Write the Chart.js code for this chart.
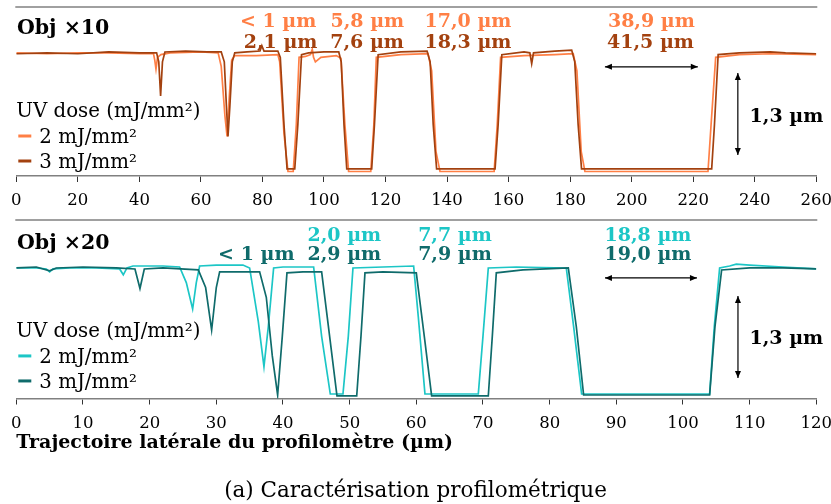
<!DOCTYPE html>
<html>
<head>
<meta charset="utf-8">
<script src="https://cdn.jsdelivr.net/npm/chart.js@4.4.1/dist/chart.umd.min.js"></script>
<style>
  html, body { margin: 0; padding: 0; background: #fff; }
  #wrap { position: relative; width: 831px; height: 504px; overflow: hidden; }
  .panel { position: absolute; left: 0; width: 831px; }
  #p1 { top: 0; height: 215px; }
  #p2 { top: 213px; height: 291px; }
</style>
</head>
<body>
<div id="wrap">
  <div class="panel" id="p1"><canvas id="c1"></canvas></div>
  <div class="panel" id="p2"><canvas id="c2"></canvas></div>
</div>
<script>
/* Profilometer traces, Obj x10 and Obj x20 — [lateral position (µm), height (µm)] */
var doseLabels = ['2 mJ/mm²', '3 mJ/mm²'];

var x10_2mJ = [[0,0],[10,-0.01],[20,0],[30,0],[40,-0.01],[44.6,-0.01],[45.0,-0.08],[45.4,-0.18],[45.9,-0.05],[47,-0.02],
  [50,0],[60,0.01],[65.6,0],[66.6,-0.15],[67.8,-0.7],[68.5,-0.93],[69.2,-0.5],[70,-0.08],[71,-0.03],[78,-0.03],
  [85,-0.02],[85.6,-0.1],[87,-0.9],[88.3,-1.32],[90,-1.32],[91,-0.8],[91.9,-0.05],[94,-0.04],[95.6,-0.02],[96.2,0.04],
  [96.6,-0.05],[97.2,-0.1],[99,-0.05],[104,-0.03],[105.5,-0.06],[106.8,-0.8],[108,-1.32],[115.2,-1.32],[116.2,-0.8],[117,-0.05],
  [125,-0.02],[133.8,-0.01],[135,-0.2],[136.4,-1.1],[137.7,-1.32],[155.3,-1.32],[156.3,-0.8],[157.4,-0.05],[165,-0.03],[175,-0.02],
  [181,-0.01],[182.2,-0.2],[183.6,-1.1],[184.8,-1.32],[224.8,-1.32],[225.8,-0.8],[227.3,-0.05],[235,-0.02],[245,-0.01],[260,-0.02]];

var x10_3mJ = [[0,-0.01],[10,0],[20,-0.01],[30,0.01],[40,0],[45.6,0],[46.3,-0.1],[46.9,-0.48],[47.5,-0.1],[48.3,0.01],
  [55,0.02],[62,0.01],[66.6,0.01],[67.6,-0.1],[68.3,-0.6],[68.8,-0.93],[69.4,-0.6],[70.2,-0.1],[71,0],[75,0.01],
  [79.2,0.02],[79.8,0.08],[80.5,0.02],[85,0.02],[85.8,-0.05],[87,-0.8],[88,-1.29],[90.5,-1.29],[91.5,-0.8],[92.7,-0.02],
  [95,0],[100,0.01],[104.8,0.01],[105.6,-0.1],[106.5,-0.8],[107.4,-1.29],[115.5,-1.29],[116.4,-0.8],[117.6,-0.02],[125,0.01],
  [133.5,0.02],[134.5,-0.1],[135.5,-0.8],[136.6,-1.29],[155.6,-1.29],[156.6,-0.8],[157.8,-0.02],[165,0.01],[166.9,0],[167.5,-0.12],
  [168.1,0],[175,0.02],[180.5,0.03],[181.5,-0.1],[182.6,-0.8],[183.7,-1.29],[226,-1.29],[226.9,-0.8],[228.1,-0.02],[235,0],
  [245,0.01],[250,0],[260,-0.01]];

var x20_2mJ = [[0,0],[3,0],[4.5,-0.01],[5,-0.04],[5.5,-0.01],[8,0],[12,0],[15.5,-0.01],[16.05,-0.07],[16.6,0],
  [17.5,0.02],[22,0.02],[24.5,0.01],[25.5,-0.15],[26.45,-0.42],[27,-0.15],[27.5,0.02],[30,0.03],[34,0.03],[35,0],
  [36.3,-0.55],[37.15,-1.01],[37.8,-0.6],[38.6,0],[40,0.01],[44.6,0.01],[45.8,-0.7],[47.1,-1.29],[49,-1.29],[49.8,-0.7],
  [50.5,0],[55,0.01],[59.6,0.02],[60.3,-0.5],[61.3,-1.29],[69.3,-1.29],[70,-0.7],[70.8,0],[75,0.01],[82.5,0],
  [83.6,-0.6],[84.8,-1.29],[104,-1.29],[104.7,-0.6],[105.5,0],[107,0.02],[108,0.04],[110,0.03],[115,0.01],[120,-0.01]];

var x20_3mJ = [[0,0],[3,0.01],[5,-0.03],[6,0],[10,0.01],[15,0],[17.8,-0.01],[18.55,-0.21],[19.2,-0.01],[22,0],
  [27.3,-0.02],[28.4,-0.2],[29.3,-0.635],[30,-0.2],[30.5,-0.04],[33,-0.04],[36.5,-0.04],[37.5,-0.3],[38.4,-0.9],[39.2,-1.3],
  [39.9,-0.7],[40.6,-0.05],[43,-0.04],[45.8,-0.04],[47,-0.7],[48.1,-1.31],[51.06,-1.31],[51.7,-0.7],[52.3,-0.05],[55,-0.04],
  [60,-0.05],[61.2,-0.7],[62.3,-1.31],[70.8,-1.31],[71.4,-0.7],[72,-0.05],[76,-0.02],[82.8,0],[84,-0.6],[85.1,-1.3],
  [104,-1.3],[104.8,-0.6],[105.8,-0.02],[110,0],[115,0],[120,-0.01]];

// measured widths written over the trenches
var x10Widths2mJ = ['< 1 µm', '5,8 µm', '17,0 µm', '38,9 µm'];
var x10Widths3mJ = ['2,1 µm', '7,6 µm', '18,3 µm', '41,5 µm'];
var x20Widths2mJ = ['2,0 µm', '7,7 µm', '18,8 µm'];
var x20Widths3mJ = ['< 1 µm', '2,9 µm', '7,9 µm', '19,0 µm'];
var depthLabel = '1,3 µm';

var BOLD = 'bold 19px "DejaVu Serif"';
var OBJ = 'bold 20.5px "DejaVu Serif"';
var REG = '19.8px "DejaVu Serif"';

function arrow(ctx, x0, y0, x1, y1) {
    var a = Math.atan2(y1 - y0, x1 - x0), L = 7, W = 3;
    ctx.beginPath(); ctx.moveTo(x0, y0); ctx.lineTo(x1, y1); ctx.stroke();
    [[x1, y1, a], [x0, y0, a + Math.PI]].forEach(function(h) {
        var c = Math.cos(h[2]), s = Math.sin(h[2]);
        ctx.beginPath();
        ctx.moveTo(h[0], h[1]);
        ctx.lineTo(h[0] - L * c + W * s, h[1] - L * s - W * c);
        ctx.lineTo(h[0] - L * c - W * s, h[1] - L * s + W * c);
        ctx.closePath(); ctx.fill();
    });
}

// texts, arrows, legend and frame line drawn over each panel
var notesPlugin = {
    id: 'notes',
    afterDraw: function(chart, args, o) {
        var ctx = chart.ctx, sx = chart.scales.x, sy = chart.scales.y, ca = chart.chartArea;
        function X(v) { return sx.getPixelForValue(v); }
        function Y(v) { return sy.getPixelForValue(v); }
        ctx.save();
        ctx.strokeStyle = '#808080'; ctx.lineWidth = 1.5;
        ctx.beginPath(); ctx.moveTo(ca.left - 1, ca.top); ctx.lineTo(ca.right + 1, ca.top); ctx.stroke();

        ctx.textBaseline = 'alphabetic';
        o.texts.forEach(function(t) {
            ctx.font = t.font; ctx.fillStyle = t.color; ctx.textAlign = t.align || 'center';
            ctx.fillText(t.text, X(t.x), Y(t.y));
        });

        ctx.strokeStyle = '#000'; ctx.fillStyle = '#000'; ctx.lineWidth = 1.2;
        o.arrows.forEach(function(a) { arrow(ctx, X(a[0]), Y(a[1]), X(a[2]), Y(a[3])); });

        var lx = X(o.legend.x);
        ctx.font = REG; ctx.textAlign = 'left'; ctx.fillStyle = '#000';
        ctx.fillText('UV dose (mJ/mm²)', lx, Y(o.legend.y[0]));
        chart.data.datasets.forEach(function(ds, i) {
            var by = Y(o.legend.y[i + 1]);
            ctx.strokeStyle = ds.borderColor; ctx.lineWidth = 3;
            ctx.beginPath(); ctx.moveTo(lx + 2, by - 7); ctx.lineTo(lx + 15, by - 7); ctx.stroke();
            ctx.fillStyle = '#000';
            ctx.fillText(ds.label, lx + 23, by);
        });

        if (o.caption) {
            ctx.font = '21.5px "DejaVu Serif"'; ctx.textAlign = 'center';
            ctx.fillText(o.caption, chart.width / 2, chart.height - 7);
        }
        ctx.restore();
    }
};

function makePanel(id, series, colors, xMax, step, yMin, yMax, scaleH, pad, title, notes) {
    return new Chart(document.getElementById(id).getContext('2d'), {
        type: 'line',
        data: {
            datasets: series.map(function(s, i) {
                return {
                    label: doseLabels[i],
                    data: s.map(function(p) { return { x: p[0], y: p[1] }; }),
                    borderColor: colors[i], borderWidth: 1.7,
                    pointRadius: 0, tension: 0, fill: false,
                    order: i === 0 ? 1 : 0
                };
            })
        },
        options: {
            responsive: true, maintainAspectRatio: false, animation: false,
            layout: { padding: pad },
            plugins: { legend: { display: false }, tooltip: { enabled: false }, notes: notes },
            scales: {
                x: {
                    type: 'linear', min: 0, max: xMax,
                    ticks: { stepSize: step, maxRotation: 0, autoSkip: false, padding: 9, color: '#000',
                             font: { family: 'DejaVu Serif', size: 16.5 } },
                    grid: { drawOnChartArea: false, tickLength: 6, color: '#333', lineWidth: 1 },
                    border: { display: true, color: '#808080', width: 1.5 },
                    title: title,
                    afterFit: function(scale) { scale.height = scaleH; scale.paddingLeft = 0; scale.paddingRight = 0; }
                },
                y: { type: 'linear', min: yMin, max: yMax, display: false }
            }
        },
        plugins: [notesPlugin]
    });
}

var c10 = ['#ff7f45', '#a3410f'];
var c20 = ['#1cc6c6', '#0f6b6b'];

makePanel('c1', [x10_2mJ, x10_3mJ], c10, 260, 20, -1.37, 0.51, 39,
    { left: 16.3, right: 14.7, top: 7, bottom: 0 }, { display: false },
    {
        texts: [
            { text: 'Obj ×10', x: 0.2, y: 0.206, font: OBJ, color: '#000', align: 'left' },
            { text: x10Widths2mJ[0], x: 85.1, y: 0.284, font: BOLD, color: c10[0] },
            { text: x10Widths2mJ[1], x: 114.1, y: 0.284, font: BOLD, color: c10[0] },
            { text: x10Widths2mJ[2], x: 146.8, y: 0.284, font: BOLD, color: c10[0] },
            { text: x10Widths2mJ[3], x: 206.4, y: 0.284, font: BOLD, color: c10[0] },
            { text: x10Widths3mJ[0], x: 85.9, y: 0.05, font: BOLD, color: c10[1] },
            { text: x10Widths3mJ[1], x: 114.0, y: 0.05, font: BOLD, color: c10[1] },
            { text: x10Widths3mJ[2], x: 146.8, y: 0.05, font: BOLD, color: c10[1] },
            { text: x10Widths3mJ[3], x: 206.1, y: 0.05, font: BOLD, color: c10[1] },
            { text: depthLabel, x: 250.3, y: -0.766, font: BOLD, color: '#000' }
        ],
        arrows: [[191.3, -0.155, 221.5, -0.155], [234.5, -0.225, 234.5, -1.137]],
        legend: { x: 0, y: [-0.711, -1.003, -1.281] }
    });

makePanel('c2', [x20_2mJ, x20_3mJ], c20, 120, 10, -1.336, 0.491, 56.3,
    { left: 16.3, right: 14.7, top: 7, bottom: 49.2 },
    { display: true, text: 'Trajectoire latérale du profilomètre (µm)', align: 'start', color: '#000',
      padding: { top: 0, bottom: 0 }, font: { family: 'DejaVu Serif', size: 19, weight: 'bold' } },
    {
        texts: [
            { text: 'Obj ×20', x: 0.1, y: 0.191, font: OBJ, color: '#000', align: 'left' },
            { text: x20Widths2mJ[0], x: 49.2, y: 0.276, font: BOLD, color: c20[0] },
            { text: x20Widths2mJ[1], x: 65.8, y: 0.276, font: BOLD, color: c20[0] },
            { text: x20Widths2mJ[2], x: 94.75, y: 0.276, font: BOLD, color: c20[0] },
            { text: x20Widths3mJ[0], x: 36.0, y: 0.082, font: BOLD, color: c20[1] },
            { text: x20Widths3mJ[1], x: 49.2, y: 0.082, font: BOLD, color: c20[1] },
            { text: x20Widths3mJ[2], x: 65.8, y: 0.082, font: BOLD, color: c20[1] },
            { text: x20Widths3mJ[3], x: 94.75, y: 0.082, font: BOLD, color: c20[1] },
            { text: depthLabel, x: 115.5, y: -0.781, font: BOLD, color: '#000' }
        ],
        arrows: [[88.3, -0.102, 102.1, -0.102], [108.25, -0.287, 108.25, -1.126]],
        legend: { x: 0, y: [-0.703, -0.972, -1.228] },
        caption: '(a) Caractérisation profilométrique'
    });
</script>
</body>
</html>
